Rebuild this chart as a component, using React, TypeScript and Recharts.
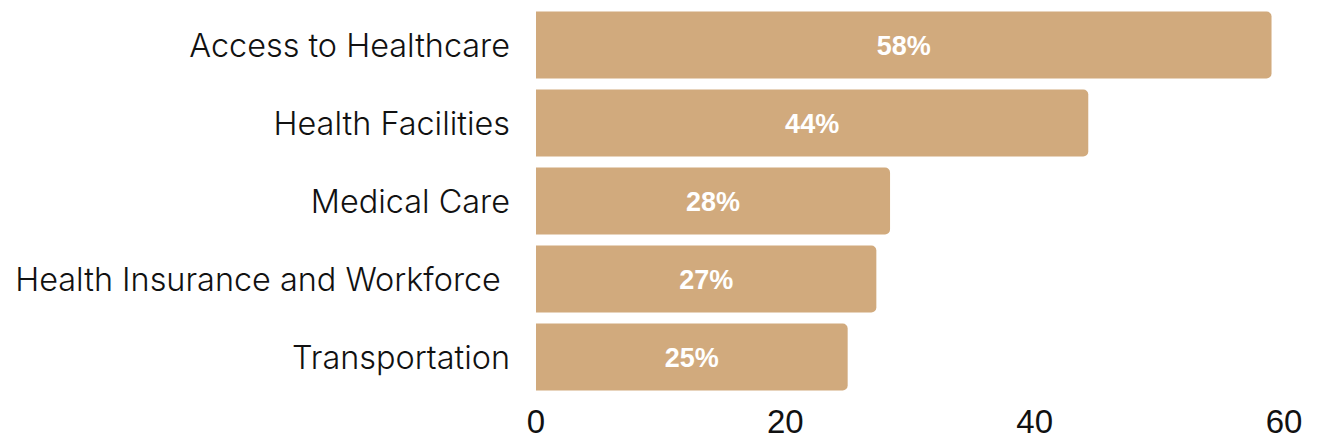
import { Bar, BarChart, LabelList, XAxis, YAxis } from 'recharts';

const categories = [
  'Access to Healthcare',
  'Health Facilities',
  'Medical Care',
  'Health Insurance and Workforce\u00a0',
  'Transportation',
];
const values = [59, 44.3, 28.4, 27.3, 25];
const valueLabels = ['58%', '44%', '28%', '27%', '25%'];
const xTicks = [0, 20, 40, 60];

const data = categories.map((name, i) => ({ name, value: values[i], label: valueLabels[i] }));

const LABEL_FONT = 'Inter, "Open Sans", sans-serif';
const NUM_FONT = '"Liberation Sans", Arial, sans-serif';

export default function App() {
  return (
    <div style={{ position: 'fixed', left: 0, top: 0, width: 1325, height: 444, background: '#fff' }}>
      <BarChart
        width={1325}
        height={444}
        data={data}
        layout="vertical"
        margin={{ top: 6, right: 41, bottom: 8, left: 0 }}
        barCategoryGap={5.5}
      >
        <XAxis
          type="number"
          domain={[0, 60]}
          ticks={xTicks}
          axisLine={false}
          tickLine={false}
          tickMargin={8}
          height={40}
          tick={{ fill: '#111', fontSize: 33, fontFamily: NUM_FONT }}
        />
        <YAxis
          type="category"
          dataKey="name"
          width={536}
          axisLine={false}
          tickLine={false}
          tickMargin={20}
          tick={{ fill: '#111', fontSize: 32.4, fontFamily: LABEL_FONT, fontWeight: 300 }}
        />
        <Bar dataKey="value" fill="#D1AA7D" radius={[0, 5, 5, 0]} isAnimationActive={false}>
          <LabelList
            dataKey="label"
            position="center"
            fill="#fff"
            style={{ fontSize: 27, fontWeight: 700, fontFamily: NUM_FONT }}
          />
        </Bar>
      </BarChart>
    </div>
  );
}
